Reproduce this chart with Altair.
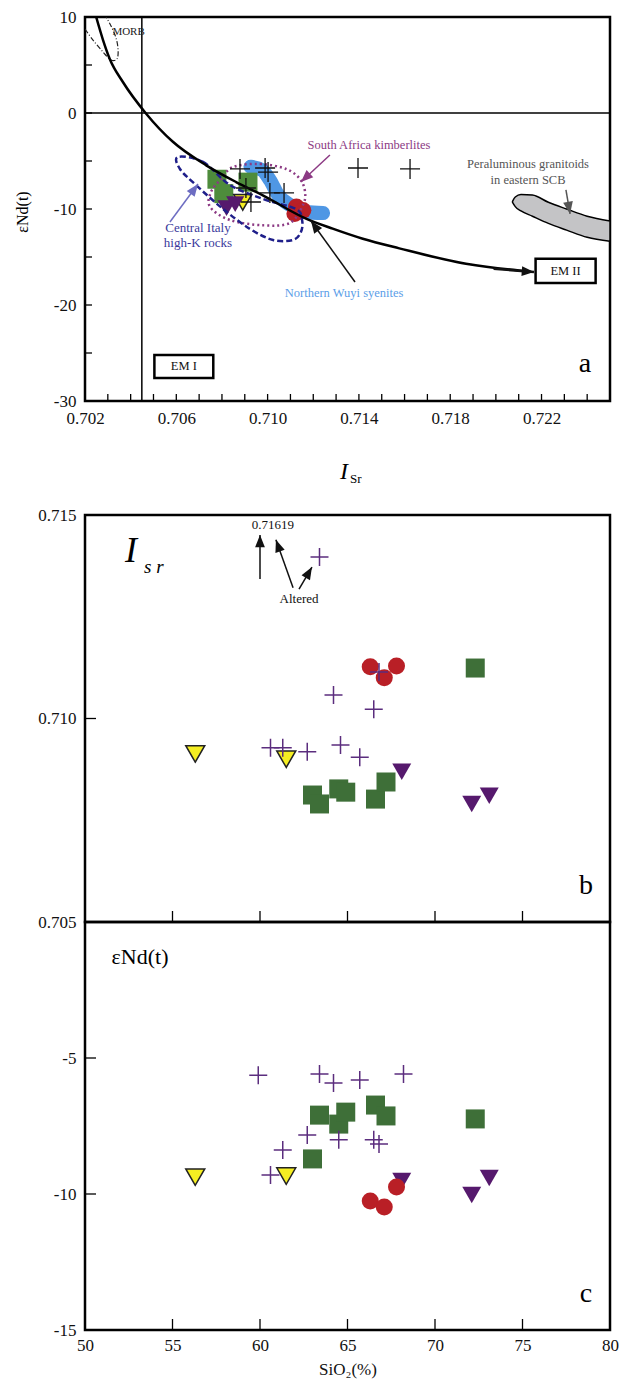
import altair as alt
import numpy as np
import pandas as pd

FONT = "Liberation Serif"
WA, HA = 525, 384
XA, YA = [0.702, 0.725], [-30, 10]
WB, HB, HC = 525, 407, 408
XB, YB, YC = [50, 80], [0.705, 0.715], [-15, 0]

# ---------------- panel a data ----------------
a_x_labels = [0.702, 0.706, 0.710, 0.714, 0.718, 0.722]
a_y_labels = [10, 0, -10, -20, -30]
a_x_ticks = [0.703, 0.704, 0.705, 0.706, 0.707, 0.708, 0.709, 0.710, 0.711, 0.712, 0.713,
             0.714, 0.715, 0.716, 0.717, 0.718, 0.719, 0.720, 0.721, 0.722, 0.723, 0.724]
a_y_ticks = [5, 0, -5, -10, -15, -20, -25]

curve_x = [0.70249, 0.70279, 0.70308, 0.70366, 0.70468, 0.70585, 0.70731, 0.70862,
           0.70979, 0.71168, 0.71285, 0.71417, 0.71577, 0.71869, 0.72102, 0.72150]
curve_y = [10.0, 7.6, 5.66, 3.23, -0.07, -3.0, -5.45, -7.19,
           -8.57, -11.0, -12.05, -13.1, -14.1, -15.7, -16.4, -16.5]

morb_x = [0.70200, 0.70235, 0.70279, 0.70314, 0.70340, 0.70345, 0.70336, 0.70314, 0.70292]
morb_y = [8.75, 7.60, 6.35, 5.52, 5.63, 6.56, 7.81, 9.06, 10.0]

wuyi_x = [0.70925, 0.70975, 0.71010, 0.71046, 0.71098, 0.71168, 0.71243]
wuyi_y = [-5.60, -5.94, -6.98, -8.54, -9.58, -10.31, -10.42]

italy_x = [0.70607, 0.70717, 0.70835, 0.70980, 0.71124, 0.71151, 0.71146, 0.71111,
           0.71024, 0.70923, 0.70805, 0.70686, 0.70616]
italy_y = [-4.58, -5.10, -7.50, -8.96, -10.0, -11.15, -12.40, -13.23,
           -13.23, -12.08, -10.0, -7.50, -5.83]

safrica_x = [0.70848, 0.70967, 0.71081, 0.71142, 0.71164, 0.71155, 0.71098, 0.70980,
             0.70835, 0.70748, 0.70752, 0.70796]
safrica_y = [-5.63, -5.31, -5.83, -6.88, -8.23, -9.58, -11.45, -11.70,
             -11.15, -9.79, -8.23, -6.88]

gran_x = [0.72073, 0.72085, 0.72110, 0.72160, 0.72230, 0.72310, 0.72400, 0.72500]
gran_top = [-9.2, -8.75, -8.5, -8.55, -9.3, -10.0, -10.75, -11.25]
gran_bot = [-9.3, -9.75, -10.2, -10.75, -11.5, -12.2, -12.95, -13.35]

a_cross_x = [0.70879, 0.70989, 0.71002, 0.70905, 0.71010, 0.71072, 0.70927, 0.71396, 0.71624]
a_cross_y = [-5.83, -5.73, -6.15, -7.81, -8.33, -8.33, -9.27, -5.73, -5.83]
a_sq_x = [0.70778, 0.70808, 0.70914]
a_sq_y = [-6.9, -8.4, -7.2]
a_yel_x, a_yel_y = [0.70891], [-9.3]
a_tri_x, a_tri_y = [0.70820, 0.70858], [-9.9, -9.5]
a_cir_x = [0.71126, 0.71155, 0.71119]
a_cir_y = [-9.79, -10.14, -10.49]

vline_x = [0.70449]
hline_y = [0]

box_x = [0.70504, 0.72174]
box_x2 = [0.70762, 0.72437]
box_y = [-25.2, -15.17]
box_y2 = [-27.6, -17.72]

a_txt = ["MORB", "South Africa kimberlites", "Peraluminous granitoids", "in eastern SCB",
         "Central Italy", "high-K rocks", "Northern Wuyi syenites", "EM II", "EM I"]
a_txt_x = [0.70320, 0.71444, 0.72141, 0.72141, 0.70695, 0.70695, 0.71335, 0.72305, 0.70633]
a_txt_y = [8.4, -3.33, -5.31, -6.98, -11.98, -13.54, -18.75, -16.45, -26.4]
a_txt_col = ["#222222", "#8c3a84", "#555555", "#555555", "#3a3a9c", "#3a3a9c",
             "#5b9ee8", "#111111", "#111111"]
a_txt_size = [11, 12.5, 12.5, 12.5, 13, 13, 12.5, 12.5, 12.5]
a_txt_align = ["left", "center", "center", "center", "center", "center", "center",
               "center", "center"]

arr_a_x = [0.71273, 0.70572, 0.71383, 0.72307, 0.71990]
arr_a_y = [-4.38, -11.35, -17.6, -8.02, -16.23]
arr_a_x2 = [0.71146, 0.70695, 0.71190, 0.72325, 0.72167]
arr_a_y2 = [-7.19, -7.40, -11.25, -10.52, -16.56]
arr_a_col = ["#8c3a84", "#6d6dc2", "#111111", "#555555", "#111111"]
arr_a_w = [1.5, 1.5, 1.5, 1.5, 2.5]

# ---------------- panel b data ----------------
b_y_labels = [0.715, 0.710, 0.705]
b_y_ticks = [0.710]
bc_x_ticks = [55, 60, 65, 70, 75]
b_cross_x = [63.4, 66.8, 64.2, 66.5, 60.6, 61.3, 62.7, 64.6, 65.7]
b_cross_y = [0.71397, 0.71114, 0.71058, 0.71023, 0.70928, 0.70928, 0.70918, 0.70935, 0.70905]
b_sq_x = [72.3, 63.0, 63.4, 64.5, 64.9, 66.6, 67.2]
b_sq_y = [0.71124, 0.70812, 0.70790, 0.70827, 0.70819, 0.70802, 0.70844]
b_yel_x, b_yel_y = [56.3, 61.5], [0.70913, 0.70900]
b_tri_x, b_tri_y = [68.1, 72.1, 73.1], [0.70869, 0.70790, 0.70810]
b_cir_x, b_cir_y = [66.3, 67.8, 67.1], [0.71127, 0.71129, 0.71100]
arr_b_x = [60.0, 61.89, 62.23]
arr_b_y = [0.71343, 0.71321, 0.71318]
arr_b_x2 = [60.0, 60.91, 62.97]
arr_b_y2 = [0.71451, 0.71439, 0.71372]
b_txt = ["0.71619", "Altered"]
b_txt_x = [60.74, 62.23]
b_txt_y = [0.71475, 0.71294]

# ---------------- panel c data ----------------
c_y_labels = [-5, -10, -15]
c_y_ticks = [-5, -10]
c_x_labels = [50, 55, 60, 65, 70, 75, 80]
c_cross_x = [59.9, 63.4, 64.2, 65.7, 68.2, 62.7, 61.3, 64.5, 66.5, 66.8, 60.6]
c_cross_y = [-5.63, -5.59, -5.92, -5.81, -5.59, -7.83, -8.38, -8.01, -8.01, -8.16, -9.30]
c_sq_x = [63.4, 64.5, 64.9, 66.6, 67.2, 72.3, 63.0]
c_sq_y = [-7.10, -7.43, -6.99, -6.73, -7.13, -7.24, -8.71]
c_yel_x, c_yel_y = [56.3, 61.5], [-9.38, -9.34]
c_tri_x, c_tri_y = [68.1, 72.1, 73.1], [-9.52, -10.04, -9.41]
c_cir_x, c_cir_y = [67.8, 66.3, 67.1], [-9.74, -10.26, -10.48]

# ---------------- styling ----------------
CROSS = "M-1,0L1,0M0,-1L0,1"
HEAD = "M0,0L-0.4,1L0.4,1Z"
PURPLE_X = "#5b2d7e"
GREEN = "#3e6f38"
GREEN_A = "#4e8c3c"
RED = "#b91f26"
YELLOW = "#f5ee22"
DPURPLE = "#56196d"
HYPHEN = "replace(datum.label, '\u2212', '-')"


def sc(dom):
    return alt.Scale(domain=dom, nice=False, zero=False)


def enc_xy(xd, yd, xf="x", yf="y", xaxis=None, yaxis=None):
    return dict(x=alt.X(f"{xf}:Q", scale=sc(xd), axis=xaxis),
                y=alt.Y(f"{yf}:Q", scale=sc(yd), axis=yaxis))


def df(**kw):
    return pd.DataFrame(kw)


def points(x, y, xd, yd, **mk):
    return alt.Chart(df(x=x, y=y)).mark_point(opacity=1, **mk).encode(**enc_xy(xd, yd))


def symbols(d, xd, yd, sizes):
    cx, cy, sq_x, sq_y, yel_x, yel_y, tri_x, tri_y, cir_x, cir_y, green, cross_col, cross_w = d
    return [
        points(sq_x, sq_y, xd, yd, shape="square", filled=True, color=green, size=sizes["sq"]),
        points(yel_x, yel_y, xd, yd, shape="triangle-down", filled=True, fill=YELLOW,
               stroke="#222222", strokeWidth=1.5, size=sizes["tri"]),
        points(tri_x, tri_y, xd, yd, shape="triangle-down", filled=True, color=DPURPLE,
               size=sizes["tri"]),
        points(cir_x, cir_y, xd, yd, shape="circle", filled=True, color=RED, size=sizes["cir"]),
    ], points(cx, cy, xd, yd, shape=CROSS, filled=False, color=cross_col,
              strokeWidth=cross_w, size=sizes["cross"])


def arrows(x, y, x2, y2, xd, yd, W, H, colors, widths):
    dx = (np.array(x2) - np.array(x)) / (xd[1] - xd[0]) * W
    dy = -(np.array(y2) - np.array(y)) / (yd[1] - yd[0]) * H
    ang = (np.degrees(np.arctan2(dx, -dy))) % 360
    d = df(x=x, y=y, x2=x2, y2=y2, ang=ang, c=colors, w=widths)
    line = alt.Chart(d).mark_rule().encode(
        **enc_xy(xd, yd), x2="x2:Q", y2="y2:Q",
        color=alt.Color("c:N", scale=None), strokeWidth=alt.StrokeWidth("w:Q", scale=None))
    head = alt.Chart(d).mark_point(shape=HEAD, filled=True, size=600, opacity=1).encode(
        **enc_xy(xd, yd, "x2", "y2"), angle=alt.Angle("ang:Q", scale=None),
        color=alt.Color("c:N", scale=None))
    return [line, head]


def xticks(vals, xd, H, L):
    return alt.Chart(df(x=vals)).mark_rule(color="black", strokeWidth=1.3).encode(
        x=alt.X("x:Q", scale=sc(xd), axis=None), y=alt.value(H), y2=alt.value(H - L))


def yticks(vals, yd, L):
    return alt.Chart(df(y=vals)).mark_rule(color="black", strokeWidth=1.3).encode(
        y=alt.Y("y:Q", scale=sc(yd), axis=None), x=alt.value(0), x2=alt.value(L))


def label(text, x, y, size, **kw):
    return alt.Chart(df(t=[text])).mark_text(font=FONT, fontSize=size, **kw).encode(
        text="t:N", x=alt.value(x), y=alt.value(y))


def yaxis(values, fmt):
    return alt.Axis(values=values, format=fmt, labelExpr=HYPHEN, title=None, ticks=False,
                    domain=False, grid=False, labelFont=FONT, labelFontSize=17,
                    labelColor="#111111", labelPadding=9, labelOverlap=False, labelFlush=False,
                    minExtent=69, maxExtent=69)


def xaxis(values, fmt, title=None, pad=9, **kw):
    return alt.Axis(values=values, format=fmt, title=title, ticks=False, domain=False,
                    grid=False, labelFont=FONT, labelFontSize=17, labelColor="#111111",
                    labelPadding=pad, labelOverlap=False, labelFlush=False, **kw)


# ---------------- panel a ----------------
a_base = alt.Chart(df(x=[0.710], y=[0])).mark_point(opacity=0).encode(
    **enc_xy(XA, YA, xaxis=xaxis(a_x_labels, ".3f"), yaxis=yaxis(a_y_labels, "d")))
curve = alt.Chart(df(x=curve_x, y=curve_y)).mark_line(
    color="black", strokeWidth=2.5, interpolate="monotone", clip=True).encode(**enc_xy(XA, YA))
morb = alt.Chart(df(x=morb_x, y=morb_y, i=list(range(len(morb_x))))).mark_line(
    color="#222222", strokeWidth=1.2, strokeDash=[5, 2, 1, 2], interpolate="cardinal",
    clip=True).encode(**enc_xy(XA, YA), order="i:Q")
wuyi = alt.Chart(df(x=wuyi_x, y=wuyi_y)).mark_line(
    color="#4f97e4", strokeWidth=14, strokeCap="round", interpolate="monotone").encode(
    **enc_xy(XA, YA))
italy = alt.Chart(df(x=italy_x, y=italy_y, i=list(range(len(italy_x))))).mark_line(
    color="#1f1f8a", strokeWidth=2.5, strokeDash=[6, 3], interpolate="cardinal-closed").encode(
    **enc_xy(XA, YA), order="i:Q")
safrica = alt.Chart(df(x=safrica_x, y=safrica_y, i=list(range(len(safrica_x))))).mark_line(
    color="#8c3a84", strokeWidth=2.5, strokeDash=[2, 3], interpolate="cardinal-closed").encode(
    **enc_xy(XA, YA), order="i:Q")
gran = alt.Chart(df(x=gran_x, y=gran_top, y2=gran_bot)).mark_area(
    fill="#c4c4c6", stroke="black", strokeWidth=1.5, interpolate="monotone", clip=True,
    opacity=1).encode(**enc_xy(XA, YA), y2="y2:Q")
vline = alt.Chart(df(x=vline_x)).mark_rule(color="black", strokeWidth=1.5).encode(
    x=alt.X("x:Q", scale=sc(XA), axis=None), y=alt.value(0), y2=alt.value(HA))
hline = alt.Chart(df(y=hline_y)).mark_rule(color="black", strokeWidth=1.5).encode(
    y=alt.Y("y:Q", scale=sc(YA), axis=None), x=alt.value(0), x2=alt.value(WA))
boxes = alt.Chart(df(x=box_x, x2=box_x2, y=box_y, y2=box_y2)).mark_rect(
    fill="white", stroke="black", strokeWidth=2.5).encode(**enc_xy(XA, YA), x2="x2:Q", y2="y2:Q")
a_text = alt.Chart(df(x=a_txt_x, y=a_txt_y, t=a_txt, c=a_txt_col, s=a_txt_size,
                      al=a_txt_align)).mark_text(font=FONT, baseline="middle").encode(
    **enc_xy(XA, YA), text="t:N", color=alt.Color("c:N", scale=None),
    size=alt.Size("s:Q", scale=None))
a_text_left = a_text.transform_filter("datum.al == 'left'").mark_text(
    font=FONT, baseline="middle", align="left")
a_text_ctr = a_text.transform_filter("datum.al == 'center'")

sym_a, cross_a = symbols((a_cross_x, a_cross_y, a_sq_x, a_sq_y, a_yel_x, a_yel_y, a_tri_x,
                          a_tri_y, a_cir_x, a_cir_y, GREEN_A, "#111111", 1.3), XA, YA,
                         {"sq": 361, "tri": 330, "cir": 280, "cross": 400})

panel_a = alt.layer(
    a_base, gran, morb, wuyi, *sym_a, safrica, italy, vline, hline, curve,
    cross_a, boxes,
    *arrows(arr_a_x, arr_a_y, arr_a_x2, arr_a_y2, XA, YA, WA, HA, arr_a_col, arr_a_w),
    a_text_left, a_text_ctr,
    xticks(a_x_ticks, XA, HA, 7), yticks(a_y_ticks, YA, 7),
    label("a", 500, 347, 28, align="center", baseline="middle", color="black"),
    label("I", 259, 455, 24, fontStyle="italic", align="center", baseline="middle", color="black"),
    label("Sr", 265, 462, 13, align="left", baseline="middle", color="black"),
    label("εNd(t)", -62, 195, 16, angle=270, align="center", baseline="middle", color="black"),
).resolve_axis(x="independent", y="independent").properties(width=WA, height=HA)

# ---------------- panel b ----------------
sym_b, cross_b = symbols((b_cross_x, b_cross_y, b_sq_x, b_sq_y, b_yel_x, b_yel_y, b_tri_x,
                          b_tri_y, b_cir_x, b_cir_y, GREEN, PURPLE_X, 1.5), XB, YB,
                         {"sq": 361, "tri": 360, "cir": 290, "cross": 324})
b_base = alt.Chart(df(x=[50], y=[0.710])).mark_point(opacity=0).encode(
    **enc_xy(XB, YB, yaxis=yaxis(b_y_labels, ".3f")))
b_text = alt.Chart(df(x=b_txt_x, y=b_txt_y, t=b_txt)).mark_text(
    font=FONT, fontSize=13, color="#111111").encode(**enc_xy(XB, YB), text="t:N")
panel_b = alt.layer(
    b_base, *sym_b, cross_b,
    *arrows(arr_b_x, arr_b_y, arr_b_x2, arr_b_y2, XB, YB, WB, HB,
            ["#111111"] * 3, [1.5] * 3),
    b_text,
    xticks(bc_x_ticks, XB, HB, 11), yticks(b_y_ticks, YB, 11),
    label("I", 46, 36, 36, fontStyle="italic", align="center", baseline="middle", color="black"),
    label("s r", 59, 52, 19, fontStyle="italic", align="left", baseline="middle", color="black"),
    label("b", 501, 371, 28, align="center", baseline="middle", color="black"),
).resolve_axis(x="independent", y="independent").properties(width=WB, height=HB)

# ---------------- panel c ----------------
sym_c, cross_c = symbols((c_cross_x, c_cross_y, c_sq_x, c_sq_y, c_yel_x, c_yel_y, c_tri_x,
                          c_tri_y, c_cir_x, c_cir_y, GREEN, PURPLE_X, 1.5), XB, YC,
                         {"sq": 361, "tri": 360, "cir": 290, "cross": 324})
c_base = alt.Chart(df(x=[50], y=[-10])).mark_point(opacity=0).encode(
    **enc_xy(XB, YC,
             xaxis=xaxis(c_x_labels, "d", title="SiO₂(%)", pad=7, titleFont=FONT,
                         titleFontSize=17, titleFontWeight="normal", titleColor="#111111",
                         titlePadding=8),
             yaxis=yaxis(c_y_labels, "d")))
panel_c = alt.layer(
    c_base, *sym_c, cross_c,
    xticks(bc_x_ticks, XB, HC, 11), yticks(c_y_ticks, YC, 11),
    label("εNd(t)", 55, 35, 22, align="center", baseline="middle", color="black"),
    label("c", 501, 372, 28, align="center", baseline="middle", color="black"),
).resolve_axis(x="independent", y="independent").properties(width=WB, height=HC)

inner = alt.vconcat(panel_b, panel_c, spacing=0, bounds="flush")
chart = alt.vconcat(panel_a, inner, spacing=114, bounds="flush").properties(
    padding={"left": 5, "top": -2, "right": 0, "bottom": 0}
).configure(font=FONT, background="white").configure_view(stroke="black", strokeWidth=2.5)

chart.save("out.html", embed_options={"renderer": "svg", "actions": False})
